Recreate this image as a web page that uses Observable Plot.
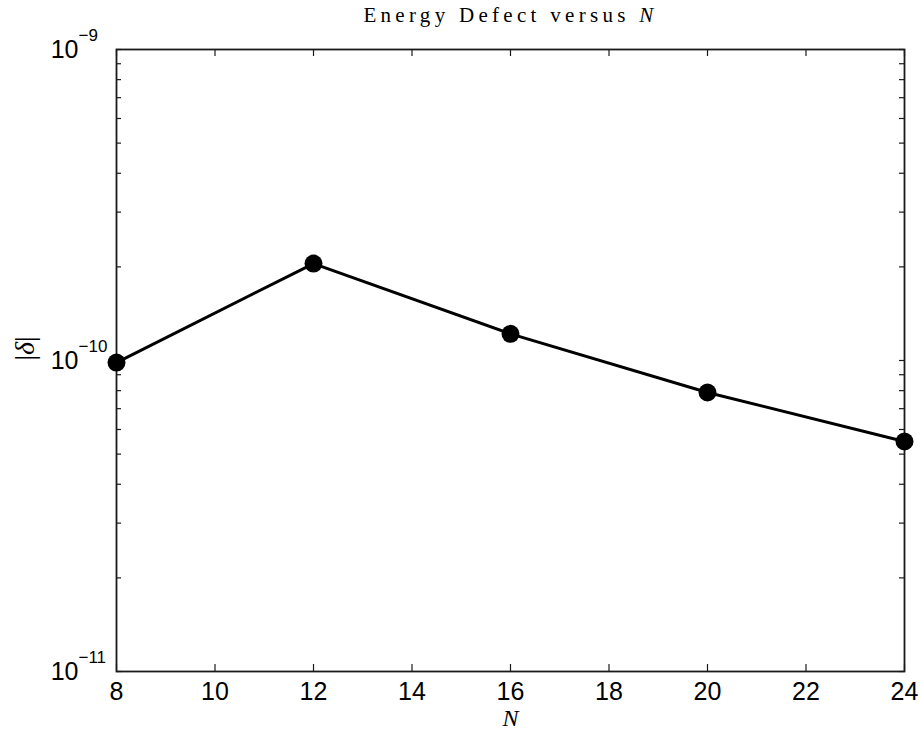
<!DOCTYPE html>
<html>
<head>
<meta charset="utf-8">
<script src="https://cdn.jsdelivr.net/npm/d3@7"></script>
<script src="https://cdn.jsdelivr.net/npm/@observablehq/plot@0.6"></script>
<style>
  html, body { margin: 0; padding: 0; background: white; }
  #chart { width: 920px; height: 733px; }
</style>
</head>
<body>
<div id="chart"></div>
<script>
// ---- data ----
const N = [8, 12, 16, 20, 24];
const delta = [0.985e-10, 2.05e-10, 1.218e-10, 0.789e-10, 0.549e-10];
const xTicks = [8, 10, 12, 14, 16, 18, 20, 22, 24];
const yMajorTicks = [1e-11, 1e-10, 1e-9];
const yMinorTicks = [2e-11, 3e-11, 4e-11, 5e-11, 6e-11, 7e-11, 8e-11, 9e-11,
                     2e-10, 3e-10, 4e-10, 5e-10, 6e-10, 7e-10, 8e-10, 9e-10];
const titleText = "Energy Defect versus N";
const xLabel = "N";
const yLabel = "|δ|";

const rows = N.map((n, i) => ({N: n, delta: delta[i]}));

const W = 920, H = 733, mL = 116, mR = 16, mT = 49, mB = 62;
const plotW = W - mL - mR, plotH = H - mT - mB;
const ink = "#1a1a1a";
const serif = "'Liberation Serif', 'Times New Roman', serif";

const chart = Plot.plot({
  width: W, height: H,
  marginLeft: mL, marginRight: mR, marginTop: mT, marginBottom: mB,
  style: {fontFamily: "'Liberation Sans', Arial, Helvetica, sans-serif", fontSize: "25px", color: "black", background: "white"},
  x: {domain: [8, 24]},
  y: {type: "log", domain: [1e-11, 1e-9]},
  marks: [
    // tick labels
    Plot.axisX({ticks: xTicks, tickSize: 0, tickPadding: 11, tickFormat: d => String(d), label: null}),
    Plot.axisY({ticks: yMajorTicks, tickSize: 0, tickPadding: 38, label: null,
      tickFormat: d => "10^" + Math.round(Math.log10(d))}),
    // inward ticks
    Plot.tickX(xTicks, {x: d => d, insetTop: plotH - 7, stroke: ink, strokeWidth: 1.2}),
    Plot.tickX(xTicks, {x: d => d, insetBottom: plotH - 7, stroke: ink, strokeWidth: 1.2}),
    Plot.tickY(yMajorTicks.concat(yMinorTicks), {y: d => d, insetRight: plotW - 5, stroke: ink, strokeWidth: 1.2}),
    Plot.tickY(yMajorTicks.concat(yMinorTicks), {y: d => d, insetLeft: plotW - 5, stroke: ink, strokeWidth: 1.2}),
    Plot.frame({stroke: ink, strokeWidth: 1.8}),
    // data
    Plot.line(rows, {x: "N", y: "delta", stroke: "black", strokeWidth: 3}),
    Plot.dot(rows, {x: "N", y: "delta", r: 9, fill: "black", stroke: "black", strokeWidth: 0}),
    // title and axis labels
    Plot.text([titleText], {text: d => d, frameAnchor: "top", dy: -34, fontSize: 21,
      fontFamily: serif, fill: "black"}),
    Plot.text([xLabel], {text: d => d, frameAnchor: "bottom", dy: 54, fontSize: 24,
      fontFamily: serif, fontStyle: "italic", fill: "black"}),
    Plot.text([yLabel], {text: d => d, frameAnchor: "left", dx: -91, rotate: -90, fontSize: 28,
      fontFamily: serif, fill: "black"})
  ]
});

document.getElementById("chart").appendChild(chart);

// post-process: superscripts and italic math letters
const svgNS = "http://www.w3.org/2000/svg";
chart.querySelectorAll("text").forEach(t => {
  const s = t.textContent;
  if (/^10\^-?\d+$/.test(s)) {
    const exp = s.split("^")[1].replace("-", "\u2212");
    t.textContent = "";
    t.setAttribute("font-size", "25");
    t.setAttribute("text-anchor", "start");
    const base = document.createElementNS(svgNS, "tspan");
    base.textContent = "10";
    base.setAttribute("dx", "-27.8");
    const sup = document.createElementNS(svgNS, "tspan");
    sup.textContent = exp;
    sup.setAttribute("dy", "-17");
    sup.setAttribute("font-size", "17");
    t.appendChild(base);
    t.appendChild(sup);
  } else if (s === titleText) {
    t.textContent = "";
    const a = document.createElementNS(svgNS, "tspan");
    a.textContent = "Energy Defect versus ";
    const b = document.createElementNS(svgNS, "tspan");
    b.textContent = "N";
    b.setAttribute("font-style", "italic");
    t.appendChild(a);
    t.appendChild(b);
    t.setAttribute("letter-spacing", "4.3");
    t.setAttribute("transform", "translate(0,-8)" + (t.getAttribute("transform") ? " " + t.getAttribute("transform") : ""));
  } else if (s === yLabel) {
    t.textContent = "";
    const a = document.createElementNS(svgNS, "tspan"); a.textContent = "|";
    const b = document.createElementNS(svgNS, "tspan"); b.textContent = "δ"; b.setAttribute("font-style", "italic");
    const c = document.createElementNS(svgNS, "tspan"); c.textContent = "|";
    t.appendChild(a); t.appendChild(b); t.appendChild(c);
  }
});
</script>
</body>
</html>
